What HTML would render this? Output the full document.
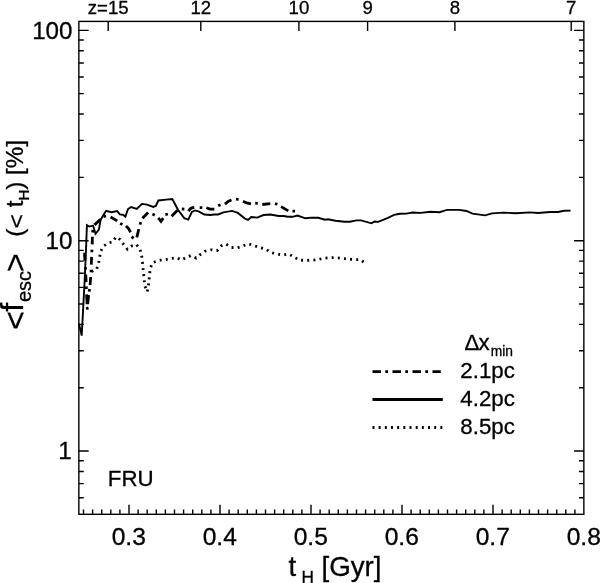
<!DOCTYPE html>
<html><head><meta charset="utf-8"><title>fesc</title>
<style>html,body{margin:0;padding:0;background:#fff}svg{display:block}text{font-family:"Liberation Sans",sans-serif;fill:#000;stroke:#000;stroke-width:0.3px}</style></head><body>
<svg width="600" height="583" viewBox="0 0 600 583">
<rect width="600" height="583" fill="#fff"/>
<g stroke="#000" stroke-width="1.4" fill="none" stroke-linecap="butt">
<rect x="78.85" y="21.4" width="505.0" height="492.9"/>
<path d="M83.50 514.3v-4.7M92.60 514.3v-4.7M101.70 514.3v-4.7M110.80 514.3v-4.7M119.90 514.3v-4.7M129.00 514.3v-9.5M138.10 514.3v-4.7M147.20 514.3v-4.7M156.30 514.3v-4.7M165.40 514.3v-4.7M174.50 514.3v-4.7M183.60 514.3v-4.7M192.70 514.3v-4.7M201.80 514.3v-4.7M210.90 514.3v-4.7M220.00 514.3v-9.5M229.10 514.3v-4.7M238.20 514.3v-4.7M247.30 514.3v-4.7M256.40 514.3v-4.7M265.50 514.3v-4.7M274.60 514.3v-4.7M283.70 514.3v-4.7M292.80 514.3v-4.7M301.90 514.3v-4.7M311.00 514.3v-9.5M320.10 514.3v-4.7M329.20 514.3v-4.7M338.30 514.3v-4.7M347.40 514.3v-4.7M356.50 514.3v-4.7M365.60 514.3v-4.7M374.70 514.3v-4.7M383.80 514.3v-4.7M392.90 514.3v-4.7M402.00 514.3v-9.5M411.10 514.3v-4.7M420.20 514.3v-4.7M429.30 514.3v-4.7M438.40 514.3v-4.7M447.50 514.3v-4.7M456.60 514.3v-4.7M465.70 514.3v-4.7M474.80 514.3v-4.7M483.90 514.3v-4.7M493.00 514.3v-9.5M502.10 514.3v-4.7M511.20 514.3v-4.7M520.30 514.3v-4.7M529.40 514.3v-4.7M538.50 514.3v-4.7M547.60 514.3v-4.7M556.70 514.3v-4.7M565.80 514.3v-4.7M574.90 514.3v-4.7M108.20 21.4v9.5M200.80 21.4v9.5M298.90 21.4v9.5M367.60 21.4v9.5M454.90 21.4v9.5M571.20 21.4v9.5M78.85 497.72h4.9M583.85 497.72h-4.9M78.85 483.63h4.9M583.85 483.63h-4.9M78.85 471.44h4.9M583.85 471.44h-4.9M78.85 460.68h4.9M583.85 460.68h-4.9M78.85 451.05h9.8M583.85 451.05h-9.8M78.85 387.73h4.9M583.85 387.73h-4.9M78.85 350.69h4.9M583.85 350.69h-4.9M78.85 324.41h4.9M583.85 324.41h-4.9M78.85 304.02h4.9M583.85 304.02h-4.9M78.85 287.37h4.9M583.85 287.37h-4.9M78.85 273.28h4.9M583.85 273.28h-4.9M78.85 261.09h4.9M583.85 261.09h-4.9M78.85 250.33h4.9M583.85 250.33h-4.9M78.85 240.70h9.8M583.85 240.70h-9.8M78.85 177.38h4.9M583.85 177.38h-4.9M78.85 140.34h4.9M583.85 140.34h-4.9M78.85 114.06h4.9M583.85 114.06h-4.9M78.85 93.67h4.9M583.85 93.67h-4.9M78.85 77.02h4.9M583.85 77.02h-4.9M78.85 62.93h4.9M583.85 62.93h-4.9M78.85 50.74h4.9M583.85 50.74h-4.9M78.85 39.98h4.9M583.85 39.98h-4.9M78.85 30.35h9.8M583.85 30.35h-9.8"/>
</g>
<path d="M79.0 323.6 L81.7 335.6 L84.7 280.0 L86.2 245.0 L86.9 225.2 L89.3 226.6 L93.1 225.6 L95.5 233.8 L98.9 229.7 L100.6 219.8 L106.1 210.8 L111.6 212.2 L117.2 211.1 L119.8 214.4 L122.9 214.7 L125.4 216.6 L128.0 209.0 L131.1 207.0 L136.8 209.0 L141.9 203.9 L147.0 204.6 L153.2 207.0 L155.8 206.0 L158.4 200.5 L166.2 199.6 L172.3 199.0 L178.0 209.8 L184.2 218.1 L188.3 219.6 L191.9 211.9 L195.0 210.4 L198.6 211.4 L204.3 214.5 L210.4 215.0 L214.1 214.5 L218.2 214.5 L223.4 212.4 L232.1 210.9 L237.8 212.9 L245.0 218.6 L248.1 219.9 L251.2 217.0 L257.3 217.6 L263.5 215.0 L270.3 214.5 L278.5 216.0 L283.7 216.0 L287.8 216.8 L292.4 216.8 L297.6 215.5 L305.3 218.3 L311.5 217.6 L318.2 217.8 L325.0 219.7 L328.0 219.2 L335.5 220.8 L344.5 221.8 L349.8 221.8 L356.5 220.4 L361.0 220.4 L371.5 223.3 L374.5 221.5 L378.2 221.9 L388.0 217.8 L394.0 214.8 L400.0 213.7 L406.5 213.6 L412.5 212.5 L420.8 212.9 L430.5 211.8 L439.5 212.2 L447.0 209.9 L459.0 209.9 L466.5 211.0 L472.5 213.7 L478.0 214.4 L485.0 215.4 L492.0 213.4 L503.0 212.6 L516.0 213.2 L530.0 212.4 L538.0 213.0 L550.0 212.0 L558.0 212.0 L564.0 210.8 L570.6 210.6" fill="none" stroke="#000" stroke-width="1.9" stroke-linejoin="miter"/>
<path d="M84.5 252.8 L84.9 260.7M85.32 267.10 L85.48 269.70M85.8 274.5 L86.1 282.0M86.25 286.40 L86.35 289.00M86.6 294.4 L87.1 304.2M86.07 308.71 L88.53 307.89M87.7 304.0 L88.6 295.0M89.21 291.59 L89.59 289.01M90.1 285.0 L90.7 277.0M91.04 272.30 L91.16 269.70M91.3 264.6 L91.6 256.9M91.84 252.20 L91.96 249.60M92.2 244.4 L92.4 236.7M92.52 232.38 L92.98 229.82M94.5 224.9 L100.6 219.4M103.54 216.60 L106.06 216.00M110.6 217.0 L117.2 220.9M120.18 223.35 L122.42 224.65M126.0 226.0 L128.6 228.6 L130.6 232.2M131.60 236.67 L133.60 238.33M136.8 237.3 L138.8 229.1M139.99 224.63 L140.81 222.17M142.4 218.3 L148.1 212.6M152.45 214.00 L154.75 215.20M158.3 217.9 L161.0 221.3 L163.2 218.1M165.33 214.59 L167.87 214.01M171.6 216.2 L177.5 210.3M181.80 208.99 L184.40 209.21M188.4 211.2 L190.4 208.7 L192.0 207.8 L194.3 207.3M199.70 207.55 L202.30 207.65M206.4 207.8 L210.0 209.1 L214.4 209.1M218.13 205.76 L220.47 204.64M224.9 204.1 L228.5 201.2 L231.5 200.0M236.01 199.17 L238.59 199.43M243.0 201.2 L246.5 203.0 L251.0 203.8M255.20 203.12 L257.80 203.28M262.3 204.5 L270.3 203.7M274.94 203.56 L277.46 204.24M281.1 206.6 L288.3 210.9M292.50 211.04 L295.10 211.16" fill="none" stroke="#000" stroke-width="2.8" stroke-linejoin="miter"/>
<path d="M91.5 271.5 L96.6 269.3 L98.5 263.7 L99.6 257.5 L100.7 251.3 L103.4 246.1 L108.4 243.1 L112.9 241.7 L115.9 236.9 L120.2 239.5 L123.6 244.4 L127.4 249.2 L131.0 246.2 L136.4 244.4 L140.0 249.2 L141.6 255.2 L142.4 261.5 L143.0 267.8 L143.6 273.8 L144.2 279.8 L144.8 285.8 L147.2 291.8 L148.4 286.4 L149.0 280.4 L149.6 274.7 L150.2 268.4 L152.6 262.7 L158.4 260.3 L164.4 259.8 L170.4 258.6 L176.4 257.6 L181.4 260.0 L186.2 257.4 L191.0 255.5 L196.2 258.0 L200.8 254.2 L205.2 251.2 L211.2 249.8 L217.2 250.5 L221.0 246.0 L225.8 244.0 L231.5 247.5 L237.5 247.8 L242.8 246.0 L248.3 243.8 L254.0 245.6 L260.0 247.5 L266.0 249.2 L270.6 252.4 L277.0 254.0 L283.0 255.0 L288.6 254.0 L294.0 257.0 L299.0 260.0 L305.0 260.4 L311.4 260.2 L317.4 259.8 L323.4 258.2 L329.4 257.8 L335.4 257.6 L341.4 258.2 L347.4 259.0 L354.0 259.6 L360.0 259.6 L366.0 263.5" fill="none" stroke="#000" stroke-width="2.8" stroke-dasharray="1.95 4.22" stroke-linejoin="miter"/>
<path d="M372.5 371.7H440.8" stroke="#000" stroke-width="2.8" stroke-dasharray="8.5 4.3 2.7 4.5"/>
<path d="M372.5 399.5H442.8" stroke="#000" stroke-width="2.9"/>
<path d="M372.5 427.5H442.5" stroke="#000" stroke-width="2.9" stroke-dasharray="1.95 4.22"/>
<text x="460.35" y="378.3" font-size="22.3">2.1pc</text>
<text x="460.35" y="406.2" font-size="22.3">4.2pc</text>
<text x="460.35" y="434.1" font-size="22.3">8.5pc</text>
<text x="464.5" y="350.4" font-size="22.3">Δ</text>
<text x="478.4" y="350.4" font-size="22.3">x</text>
<text x="490.7" y="356" font-size="13.8">min</text>
<text x="107.85" y="486.3" font-size="22.3">FRU</text>
<text x="108.2" y="13.6" font-size="18.6" text-anchor="middle">z=15</text>
<text x="200.8" y="13.6" font-size="18.6" text-anchor="middle">12</text>
<text x="298.9" y="13.6" font-size="18.6" text-anchor="middle">10</text>
<text x="367.6" y="13.6" font-size="18.6" text-anchor="middle">9</text>
<text x="454.9" y="13.6" font-size="18.6" text-anchor="middle">8</text>
<text x="571.2" y="13.6" font-size="18.6" text-anchor="middle">7</text>
<text x="128.8" y="545.3" font-size="24.6" text-anchor="middle">0.3</text>
<text x="219.8" y="545.3" font-size="24.6" text-anchor="middle">0.4</text>
<text x="310.8" y="545.3" font-size="24.6" text-anchor="middle">0.5</text>
<text x="401.8" y="545.3" font-size="24.6" text-anchor="middle">0.6</text>
<text x="492.8" y="545.3" font-size="24.6" text-anchor="middle">0.7</text>
<text x="583.8" y="545.3" font-size="24.6" text-anchor="middle">0.8</text>
<text x="32.15" y="38.5" font-size="24.2">100</text>
<text x="45.5" y="248.9" font-size="24.2">10</text>
<text x="58.2" y="459.2" font-size="24.2">1</text>
<text x="288.4" y="576.1" font-size="27.7">t</text>
<text x="301.5" y="583.1" font-size="17.2">H</text>
<text x="321.5" y="576.1" font-size="27.7">[Gyr]</text>
<text transform="translate(22.75 175.1) rotate(-90)" font-size="24.3">[%]</text>
<text transform="translate(22.6 189.82) rotate(-90)" font-size="24.3">)</text>
<text transform="translate(29.2 200.6) rotate(-90)" font-size="15.1">H</text>
<text transform="translate(22.9 207.35) rotate(-90)" font-size="24.3">t</text>
<text transform="translate(23.849999999999998 228.5) rotate(-90) scale(1 0.9)" font-size="24.3">&lt;</text>
<text transform="translate(22.6 236.85) rotate(-90)" font-size="24.3">(</text>
<text transform="translate(25.5 272.1) rotate(-90)" font-size="32">&gt;</text>
<text transform="translate(30.95 302.0) rotate(-90)" font-size="20">esc</text>
<text transform="translate(22.7 311.75) rotate(-90)" font-size="32">f</text>
<text transform="translate(25.6 329.85) rotate(-90)" font-size="32">&lt;</text>
</svg></body></html>
